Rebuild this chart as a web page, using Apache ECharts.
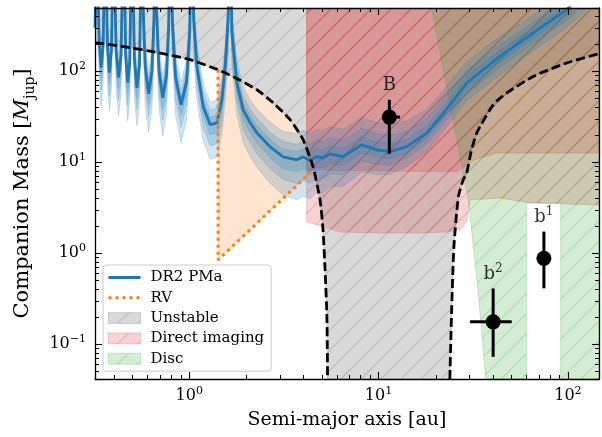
<!DOCTYPE html>
<html><head><meta charset="utf-8">
<script src="https://cdn.jsdelivr.net/npm/echarts@6/dist/echarts.min.js"></script>
<style>html,body{margin:0;padding:0;background:#fff}#c{width:602px;height:437px}</style>
</head><body><div id="c"></div>
<script>
const FONT = "'DejaVu Serif', serif";
const X_MIN = 0.318, X_MAX = 146, Y_MIN = 0.0412, Y_MAX = 494;
const xTicks = [1, 10, 100];
const yTicks = [0.1, 1, 10, 100];

// DR2 PMa sensitivity curve
const pmaA = [0.318,0.3258,0.3342,0.3425,0.3511,0.3602,0.3697,0.3790,0.3886,0.3986,
  0.4109,0.4236,0.4367,0.4500,0.4617,0.4737,0.4859,0.4984,0.5138,0.5297,
  0.5461,0.5630,0.5720,0.5858,0.6101,0.6355,0.6510,0.6616,0.6740,0.6924,
  0.7247,0.7584,0.7794,0.7939,0.8153,0.8477,0.9057,0.9678,1.006,1.0333,
  1.056,1.098,1.186,1.291,1.400,1.488,1.549,1.606,1.646,1.680,
  1.785,1.927,2.099,2.276,2.676,3.133,3.70,4.00,4.35,4.72,
  5.09,5.55,6.50,8.15,9.78,11.5,14.1,17.96,22.0,29.2,
  43.8,65.6,98.4,147];
const pmaM = [300,5000,217,109,194,5000,191,96,171,5000,
  169,84.6,150,5000,149,74.5,132,5000,131,65.6,
  117,5000,448,112,56.4,100,356,5000,405,102,
  50.9,90.6,321,5000,339,85.1,42.7,75.9,269,5000,
  368,113,40.5,25.7,27.0,48.4,112,368,5000,265,
  74.5,37.6,27.0,21.0,14.7,11.4,10.6,11.4,10.4,11.5,
  11.1,12.3,11.5,15.5,13.6,13.05,14.8,20.8,34.6,74.0,
  145,263,475,1016];
// band half-widths (dex)
const outerUp = [0.25,0.25,0.25,0.25,0.25,0.25,0.25,0.25,0.25,0.25,
  0.25,0.25,0.25,0.25,0.25,0.25,0.25,0.25,0.25,0.25,
  0.25,0.25,0.25,0.25,0.25,0.25,0.25,0.25,0.25,0.25,
  0.25,0.25,0.25,0.25,0.25,0.25,0.25,0.25,0.25,0.25,
  0.25,0.25,0.25,0.25,0.25,0.25,0.25,0.25,0.25,0.25,
  0.25,0.25,0.25,0.26,0.27,0.28,0.29,0.29,0.30,0.30,
  0.30,0.30,0.30,0.30,0.30,0.30,0.28,0.26,0.25,0.24,
  0.22,0.20,0.20,0.20];
const outerDn = [0.42,0.42,0.42,0.42,0.42,0.42,0.42,0.42,0.42,0.42,
  0.42,0.42,0.42,0.42,0.42,0.42,0.42,0.42,0.42,0.42,
  0.42,0.42,0.42,0.42,0.42,0.42,0.42,0.42,0.42,0.42,
  0.42,0.42,0.42,0.42,0.42,0.42,0.42,0.42,0.42,0.42,
  0.38,0.38,0.38,0.38,0.38,0.38,0.38,0.38,0.38,0.35,
  0.35,0.36,0.37,0.38,0.40,0.42,0.44,0.43,0.42,0.40,
  0.38,0.36,0.33,0.30,0.27,0.25,0.22,0.20,0.20,0.20,
  0.20,0.20,0.20,0.20];
const midUp = [0.16,0.16,0.16,0.16,0.16,0.16,0.16,0.16,0.16,0.16,
  0.16,0.16,0.16,0.16,0.16,0.16,0.16,0.16,0.16,0.16,
  0.16,0.16,0.16,0.16,0.16,0.16,0.16,0.16,0.16,0.16,
  0.16,0.16,0.16,0.16,0.16,0.16,0.16,0.16,0.16,0.16,
  0.16,0.16,0.16,0.16,0.16,0.16,0.16,0.16,0.16,0.15,
  0.15,0.15,0.15,0.16,0.16,0.17,0.17,0.17,0.18,0.18,
  0.18,0.18,0.18,0.18,0.18,0.18,0.17,0.16,0.15,0.14,
  0.13,0.12,0.12,0.12];
const midDn = [0.25,0.25,0.25,0.25,0.25,0.25,0.25,0.25,0.25,0.25,
  0.25,0.25,0.25,0.25,0.25,0.25,0.25,0.25,0.25,0.25,
  0.25,0.25,0.25,0.25,0.25,0.25,0.25,0.25,0.25,0.25,
  0.25,0.25,0.25,0.25,0.25,0.25,0.25,0.25,0.25,0.25,
  0.23,0.23,0.23,0.23,0.23,0.23,0.23,0.23,0.23,0.21,
  0.21,0.22,0.22,0.23,0.24,0.25,0.26,0.26,0.25,0.24,
  0.23,0.22,0.20,0.18,0.16,0.15,0.13,0.12,0.12,0.12,
  0.12,0.12,0.12,0.12];
const innerUp = [0.08,0.08,0.08,0.08,0.08,0.08,0.08,0.08,0.08,0.08,
  0.08,0.08,0.08,0.08,0.08,0.08,0.08,0.08,0.08,0.08,
  0.08,0.08,0.08,0.08,0.08,0.08,0.08,0.08,0.08,0.08,
  0.08,0.08,0.08,0.08,0.08,0.08,0.08,0.08,0.08,0.08,
  0.08,0.08,0.08,0.08,0.08,0.08,0.08,0.08,0.08,0.08,
  0.08,0.08,0.08,0.08,0.08,0.08,0.09,0.09,0.09,0.09,
  0.09,0.09,0.09,0.09,0.09,0.09,0.08,0.08,0.08,0.07,
  0.07,0.06,0.06,0.06];
const innerDn = [0.12,0.12,0.12,0.12,0.12,0.12,0.12,0.12,0.12,0.12,
  0.12,0.12,0.12,0.12,0.12,0.12,0.12,0.12,0.12,0.12,
  0.12,0.12,0.12,0.12,0.12,0.12,0.12,0.12,0.12,0.12,
  0.12,0.12,0.12,0.12,0.12,0.12,0.12,0.12,0.12,0.12,
  0.11,0.11,0.11,0.11,0.11,0.11,0.11,0.11,0.11,0.10,
  0.10,0.11,0.11,0.11,0.12,0.13,0.13,0.13,0.13,0.12,
  0.11,0.11,0.10,0.09,0.08,0.08,0.07,0.06,0.06,0.06,
  0.06,0.06,0.06,0.06];

// stability limits (dashed)
const leftA = [0.318,0.449,0.678,1.01,1.417,1.707,2.276,2.774,3.41,3.996,4.51,4.91,5.09,5.22,5.33,5.36,5.38];
const leftM = [205,186,160,133.6,103.6,86.8,62.4,44.9,29.2,17.6,8.85,3.83,1.79,0.65,0.218,0.1,0.0412];
const rightA = [23.8,24.3,25.0,26.4,28.0,29.2,30.8,33.0,38.7,42.2,47.5,65.6,98.5,146];
const rightM = [0.0412,0.218,1.17,4.17,6.37,7.55,12.9,20.8,37.6,47.2,57.4,87.4,122.8,155.5];

// RV limit
const rvA = [1.42, 1.42, 4.55];
const rvM = [103.6, 0.84, 8.3];

// Direct imaging limits (two levels)
const diA1 = [4.17,25.9,32.3,42.2,146];
const diM1 = [8.2,7.8,10.6,12.6,12.6];
const diA2 = [4.17,5.35,6.26,10.2,16.6,23.0,26.9,29.2,30.4,43.8,63.1,146];
const diM2 = [2.21,1.88,1.70,1.66,1.66,1.70,1.79,2.19,3.83,4.03,3.55,3.38];

// Disc region
const discEdgeA = [19.1,23.55,29.8,33.5,36.8];
const discEdgeM = [494,48.4,3.83,0.391,0.0412];
const discGapA = [60.5, 91.6];
const discGapTop = 3.55;

// companions
const ptName = ['B','b','b'];
const ptSup = ['','2','1'];
const ptA = [11.4, 40.3, 74.7];
const ptM = [31.2, 0.175, 0.874];
const ptALo = [10.9, 30.4, 74.7];
const ptAHi = [13.0, 50.5, 74.7];
const ptMLo = [12.3, 0.0721, 0.409];
const ptMHi = [48.4, 0.408, 1.72];

function zip(a, m) { return a.map((v, i) => [v, m[i]]); }

function hatch(rgb, a) {
  const s = 20, c = document.createElement('canvas');
  c.width = s; c.height = s;
  const g = c.getContext('2d');
  g.fillStyle = 'rgba(' + rgb + ',' + a + ')';
  g.fillRect(0, 0, s, s);
  g.strokeStyle = 'rgba(' + rgb + ',' + a + ')';
  g.lineWidth = 1.3;
  g.beginPath();
  g.moveTo(-2, s + 2); g.lineTo(s + 2, -2);
  g.moveTo(-s / 2 - 2, s / 2 + 2); g.lineTo(s / 2 + 2, -s / 2 - 2);
  g.moveTo(s / 2 - 2, s * 1.5 + 2); g.lineTo(s * 1.5 + 2, s / 2 - 2);
  g.stroke();
  return { image: c, repeat: 'repeat' };
}
const GREY = '128,128,128', RED = '214,39,40', GREEN = '44,160,44', ORANGE = '255,127,14', BLUE = '31,119,180';
const greyHatch = hatch(GREY, 0.3), redHatch = hatch(RED, 0.2), greenHatch = hatch(GREEN, 0.2);

function polySeries(name, polys, fill, stroke, z) {
  return {
    type: 'custom', name: name, coordinateSystem: 'cartesian2d', z: z, silent: true,
    data: [[1, 1]], itemStyle: { color: fill },
    renderItem: function (params, api) {
      const cs = params.coordSys;
      return {
        type: 'group',
        clipPath: { type: 'rect', shape: { x: cs.x, y: cs.y, width: cs.width, height: cs.height } },
        children: polys.map(pts => ({
          type: 'polygon', shape: { points: pts.map(p => api.coord(p)) },
          style: { fill: fill, stroke: stroke, lineWidth: 1 }
        }))
      };
    }
  };
}

// polygons built from the arrays
const unstablePoly = [[X_MIN, Y_MAX], [X_MAX, Y_MAX]]
  .concat(zip(rightA, rightM).reverse())
  .concat(zip(leftA, leftM).reverse());
const rvPoly = [[rvA[1], rvM[1]], [rvA[0], rvM[0]]]
  .concat(zip(leftA, leftM).filter(p => p[0] > rvA[0] && p[0] < rvA[2]))
  .concat([[rvA[2], rvM[2]]]);
const di1Poly = [[diA1[0], Y_MAX]].concat(zip(diA1, diM1)).concat([[X_MAX, Y_MAX]]);
const di2Poly = [[diA2[0], Y_MAX]].concat(zip(diA2, diM2)).concat([[X_MAX, Y_MAX]]);
const discPoly = zip(discEdgeA, discEdgeM).concat([
  [discGapA[0], Y_MIN], [discGapA[0], discGapTop], [discGapA[1], discGapTop],
  [discGapA[1], Y_MIN], [X_MAX, Y_MIN], [X_MAX, Y_MAX]]);
function band(up, dn) {
  const u = [], l = [];
  for (let i = 0; i < pmaA.length; i++) {
    u.push([pmaA[i], pmaM[i] * Math.pow(10, up[i])]);
    l.push([pmaA[i], pmaM[i] / Math.pow(10, dn[i])]);
  }
  return u.concat(l.reverse());
}
const bandFill = 'rgba(' + BLUE + ',0.2)';

function powLabel(v, ticks) {
  for (const t of ticks) {
    if (Math.abs(v / t - 1) < 1e-6) {
      const e = Math.round(Math.log10(t));
      return '10{sup|' + (e < 0 ? '\u2212' + (-e) : e) + '}';
    }
  }
  return '';
}
const supRich = { sup: { fontFamily: FONT, fontSize: 11, color: '#000', verticalAlign: 'top', lineHeight: 11 } };
const axisBase = {
  type: 'log', logBase: 10, z: 10,
  axisLine: { show: true, onZero: false, lineStyle: { color: '#000', width: 1.3 } },
  axisTick: { show: true, inside: true, length: 7, lineStyle: { color: '#000', width: 1.1 } },
  splitLine: { show: false }, minorTick: { show: false }
};

const chart = echarts.init(document.getElementById('c'), null, { renderer: 'canvas' });
chart.setOption({
  animation: false,
  backgroundColor: '#fff',
  grid: { left: 95, right: 3, top: 8, bottom: 58, containLabel: false, outerBoundsMode: 'none' },
  xAxis: [
    Object.assign({}, axisBase, {
      min: X_MIN, max: X_MAX, position: 'bottom',
      name: 'Semi-major axis [au]', nameLocation: 'middle', nameGap: 26,
      nameTextStyle: { fontFamily: FONT, fontSize: 19, color: '#000' },
      axisLabel: { show: true, margin: 7, fontFamily: FONT, fontSize: 16, color: '#000', lineHeight: 20,
        formatter: v => powLabel(v, xTicks), rich: supRich }
    }),
    Object.assign({}, axisBase, { min: X_MIN, max: X_MAX, position: 'top', axisLabel: { show: false } })
  ],
  yAxis: [
    Object.assign({}, axisBase, {
      min: Y_MIN, max: Y_MAX, position: 'left',
      name: 'Companion Mass [{it|M}{sub|jup}]', nameLocation: 'middle', nameGap: 58,
      nameTextStyle: { fontFamily: FONT, fontSize: 21, color: '#000', lineHeight: 28,
        rich: { it: { fontFamily: FONT, fontSize: 21, fontStyle: 'italic', color: '#000', lineHeight: 28 },
                sub: { fontFamily: FONT, fontSize: 14, color: '#000', verticalAlign: 'bottom', lineHeight: 15 } } },
      axisLabel: { show: true, margin: 9, fontFamily: FONT, fontSize: 16, color: '#000', lineHeight: 20,
        formatter: v => powLabel(v, yTicks), rich: supRich }
    }),
    Object.assign({}, axisBase, { min: Y_MIN, max: Y_MAX, position: 'right', axisLabel: { show: false } })
  ],
  legend: {
    z: 20, left: 103, top: 265, orient: 'vertical', itemWidth: 32, itemHeight: 11, itemGap: 5.3,
    padding: [5, 7, 5, 4], backgroundColor: 'rgba(255,255,255,0.8)', borderColor: '#cccccc',
    borderWidth: 1, borderRadius: 3, selectedMode: false,
    textStyle: { fontFamily: FONT, fontSize: 15, color: '#000', padding: [0, 0, 0, 5] },
    data: [
      { name: 'DR2 PMa', itemStyle: { opacity: 0 }, lineStyle: { width: 3 } },
      { name: 'RV', itemStyle: { opacity: 0 }, lineStyle: { width: 3 } },
      { name: 'Unstable', icon: 'rect', itemStyle: { color: greyHatch, borderColor: 'rgba(' + GREY + ',0.3)', borderWidth: 1 } },
      { name: 'Direct imaging', icon: 'rect', itemStyle: { color: redHatch, borderColor: 'rgba(' + RED + ',0.2)', borderWidth: 1 } },
      { name: 'Disc', icon: 'rect', itemStyle: { color: greenHatch, borderColor: 'rgba(' + GREEN + ',0.2)', borderWidth: 1 } }
    ]
  },
  series: [
    polySeries('Unstable', [unstablePoly], greyHatch, 'rgba(' + GREY + ',0.3)', 1),
    polySeries('RVfill', [rvPoly], 'rgba(' + ORANGE + ',0.2)', 'rgba(' + ORANGE + ',0.2)', 1),
    polySeries('Direct imaging', [di1Poly], redHatch, 'rgba(' + RED + ',0.2)', 1),
    polySeries('Direct imaging', [di2Poly], redHatch, 'rgba(' + RED + ',0.2)', 1),
    polySeries('Disc', [discPoly], greenHatch, 'rgba(' + GREEN + ',0.2)', 1),
    polySeries('PMa bands', [band(outerUp, outerDn), band(midUp, midDn), band(innerUp, innerDn)], bandFill, bandFill, 2),
    {
      type: 'line', name: 'DR2 PMa', z: 3, data: zip(pmaA, pmaM), symbol: 'none', clip: true, silent: true,
      lineStyle: { color: '#1f77b4', width: 2.8 }, itemStyle: { color: '#1f77b4' }
    },
    {
      type: 'line', name: 'stabL', z: 4, data: zip(leftA, leftM), symbol: 'none', clip: true, silent: true, smooth: 0.2,
      lineStyle: { color: '#000', width: 2.8, type: [9, 4] }
    },
    {
      type: 'line', name: 'stabR', z: 4, data: zip(rightA, rightM), symbol: 'none', clip: true, silent: true, smooth: 0.2,
      lineStyle: { color: '#000', width: 2.8, type: [9, 4] }
    },
    {
      type: 'line', name: 'RV', z: 4, data: zip(rvA, rvM), symbol: 'none', clip: true, silent: true,
      lineStyle: { color: '#ff7f0e', width: 3, type: [3, 4] }, itemStyle: { color: '#ff7f0e' }
    },
    {
      type: 'custom', name: 'companions', z: 5, silent: true,
      data: ptA.map((a, i) => [a, ptM[i], ptALo[i], ptAHi[i], ptMLo[i], ptMHi[i]]),
      encode: { x: 0, y: 1 },
      renderItem: function (params, api) {
        const a = api.value(0), m = api.value(1);
        const c = api.coord([a, m]);
        const l = api.coord([api.value(2), m]), r = api.coord([api.value(3), m]);
        const b = api.coord([a, api.value(4)]), t = api.coord([a, api.value(5)]);
        return { type: 'group', children: [
          { type: 'line', shape: { x1: l[0], y1: l[1], x2: r[0], y2: r[1] }, style: { stroke: '#000', lineWidth: 3 } },
          { type: 'line', shape: { x1: b[0], y1: b[1], x2: t[0], y2: t[1] }, style: { stroke: '#000', lineWidth: 3 } },
          { type: 'circle', shape: { cx: c[0], cy: c[1], r: 7.5 }, style: { fill: '#000' } }
        ] };
      }
    },
    {
      type: 'scatter', name: 'labels', z: 6, silent: true, symbolSize: 1, itemStyle: { color: 'rgba(0,0,0,0)' },
      data: ptA.map((a, i) => ({ value: [a, ptMHi[i]],
        label: { formatter: ptSup[i] ? ptName[i] + '{sup|' + ptSup[i] + '}' : ptName[i] } })),
      label: { show: true, position: 'top', distance: 3, fontFamily: FONT, fontSize: 18, color: '#000', lineHeight: 22,
        rich: { sup: { fontFamily: FONT, fontSize: 12, color: '#000', verticalAlign: 'top', lineHeight: 12 } } }
    },
    {
      type: 'custom', name: 'minorTicks', z: 11, silent: true, data: [[1, 1]],
      renderItem: function (params, api) {
        const cs = params.coordSys, kids = [];
        const st = { stroke: '#000', lineWidth: 1 };
        for (let e = -2; e <= 3; e++) {
          for (let k = 2; k <= 9; k++) {
            const v = k * Math.pow(10, e);
            if (v > X_MIN && v < X_MAX) {
              const px = Math.round(api.coord([v, 1])[0]) + 0.5;
              kids.push({ type: 'line', shape: { x1: px, y1: cs.y + cs.height, x2: px, y2: cs.y + cs.height - 4 }, style: st });
              kids.push({ type: 'line', shape: { x1: px, y1: cs.y, x2: px, y2: cs.y + 4 }, style: st });
            }
            if (v > Y_MIN && v < Y_MAX) {
              const py = Math.round(api.coord([1, v])[1]) + 0.5;
              kids.push({ type: 'line', shape: { x1: cs.x, y1: py, x2: cs.x + 4, y2: py }, style: st });
              kids.push({ type: 'line', shape: { x1: cs.x + cs.width, y1: py, x2: cs.x + cs.width - 4, y2: py }, style: st });
            }
          }
        }
        return { type: 'group', children: kids };
      }
    }
  ]
});
</script>
</body></html>
